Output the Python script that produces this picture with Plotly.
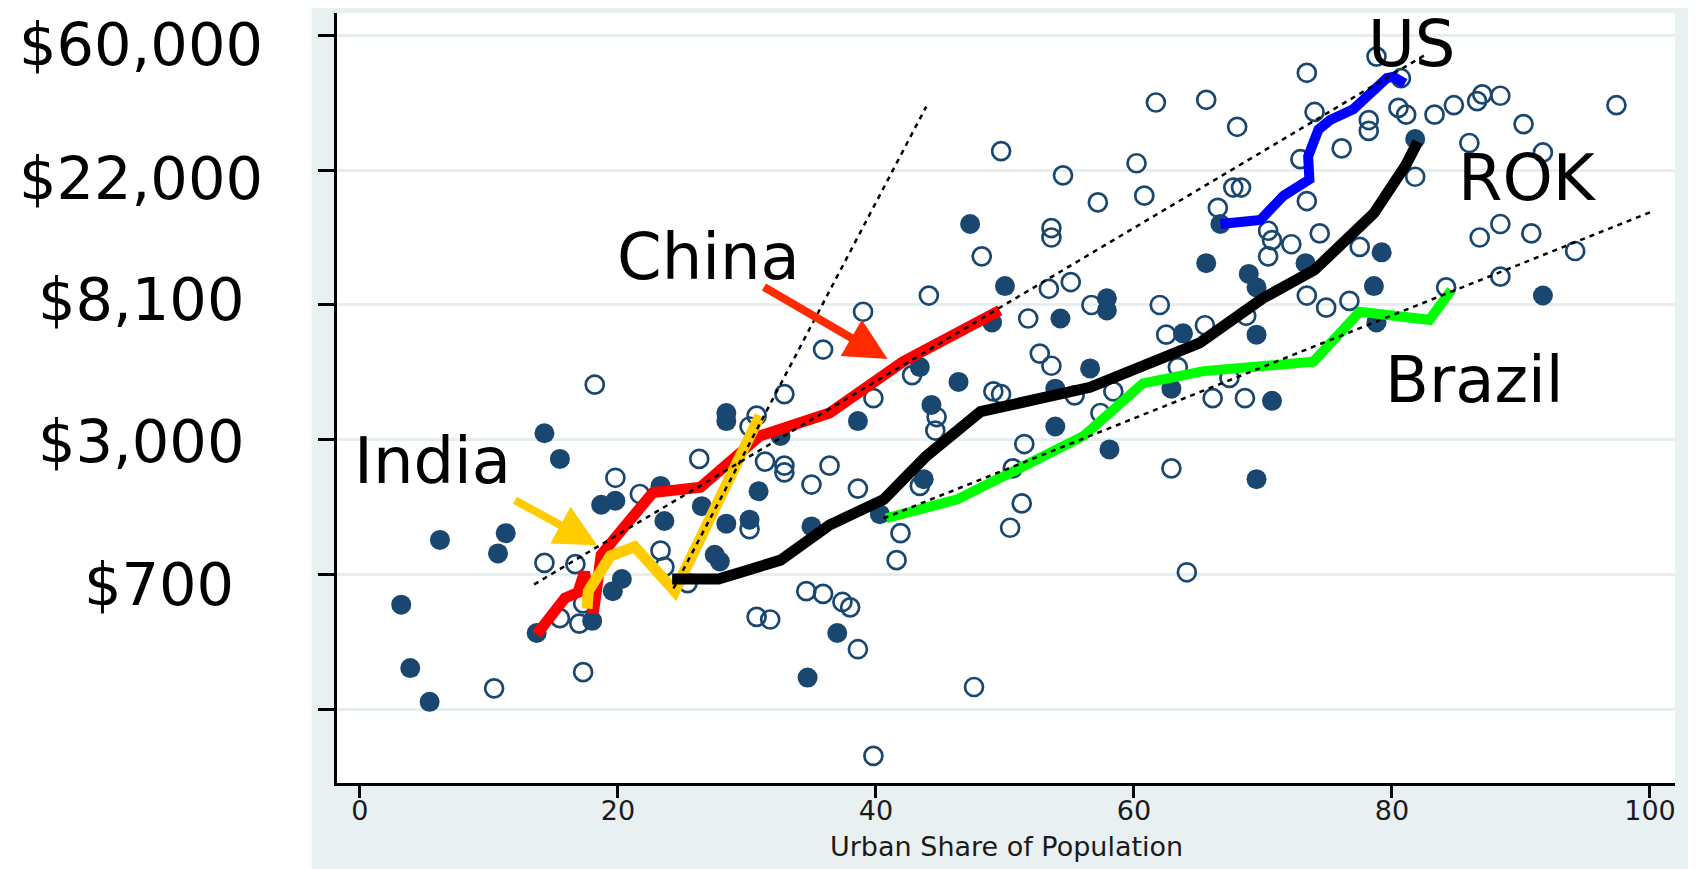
import plotly.graph_objects as go

# ---------------- DATA (x = urban share %, y = ln GDP per capita) ----------------
open_x = [18.2, 32.9, 30.75, 30.2, 26.3, 31.4, 32.9, 32.9, 36.4, 19.8, 35.0, 21.7, 30.2, 14.3, 16.7,
          23.3, 23.6, 25.4, 34.6, 35.9, 15.5, 17.0, 17.3, 30.75, 31.8, 10.4, 17.3,
          61.7, 65.6, 68.0, 49.7, 54.5, 60.2, 60.8, 57.2, 67.7, 68.3, 66.5, 53.6, 53.6, 48.2, 44.1,
          39.0, 53.4, 55.1, 56.7, 62.0, 51.8, 65.5, 62.5, 35.9, 52.7, 53.6, 42.8, 39.8, 49.1, 49.7,
          58.4, 63.4, 68.6, 66.1, 67.4, 44.7, 44.6, 55.4, 57.4, 51.5, 38.6, 43.4, 50.6, 51.3, 50.4,
          41.9, 41.6, 62.9, 64.1,
          78.8, 73.4, 80.7, 74.0, 78.2, 78.2, 76.1, 72.9, 80.5, 81.1, 83.3, 84.8, 86.6, 87.0, 88.4,
          97.4, 90.2, 86.0, 91.7, 81.8, 73.4, 70.4, 70.7, 72.2, 74.4, 70.4, 77.5, 86.8, 88.4, 90.8,
          94.2, 73.4, 74.9, 76.7, 88.4, 84.2, 68.7,
          37.4, 38.0, 38.6, 47.6, 39.8]
open_y = [8.41, 8.34, 8.18, 8.10, 7.86, 7.84, 7.81, 7.76, 7.81, 7.72, 7.67, 7.60, 7.34, 7.09, 7.08,
          7.18, 7.06, 6.94, 6.88, 6.86, 6.68, 6.64, 6.79, 6.69, 6.67, 6.16, 6.28,
          10.50, 10.52, 10.32, 10.14, 9.96, 10.05, 9.81, 9.76, 9.87, 9.87, 9.72, 9.57, 9.50, 9.36, 9.07,
          8.95, 9.12, 9.17, 9.00, 9.00, 8.90, 8.85, 8.78, 8.67, 8.64, 8.55, 8.48, 8.31, 8.36, 8.34,
          8.36, 8.54, 8.31, 8.31, 8.46, 8.17, 8.07, 8.33, 8.20, 7.97, 7.64, 7.66, 7.79, 7.53, 7.35,
          7.31, 7.11, 7.79, 7.02,
          10.84, 10.72, 10.68, 10.43, 10.37, 10.29, 10.16, 10.08, 10.46, 10.41, 10.41, 10.48, 10.51, 10.56, 10.55,
          10.48, 10.34, 10.20, 10.13, 9.95, 9.77, 9.55, 9.48, 9.45, 9.53, 9.36, 9.43, 9.50, 9.60, 9.53,
          9.40, 9.07, 8.98, 9.03, 9.21, 9.13, 8.92,
          6.80, 6.76, 6.45, 6.17, 5.66]

filled_x = [28.4, 28.4, 14.3, 15.5, 30.9, 23.3, 18.7, 19.8, 26.5, 23.6, 28.4, 30.2, 35.0, 6.2, 11.3,
            10.7, 27.5, 27.9, 20.3, 19.6, 3.2, 13.7, 18.0, 3.9, 5.4, 34.7, 32.6,
            47.3, 65.6, 68.9, 66.7, 50.0, 57.9, 57.9, 54.3, 49.0, 63.8, 43.4, 46.4, 38.6, 44.3, 56.6,
            53.9, 62.9, 53.9, 58.1, 43.7, 40.3, 69.5,
            81.8, 79.2, 73.3, 69.5, 78.6, 91.7, 69.5, 78.8, 70.7,
            37.0]
filled_y = [8.20, 8.14, 8.05, 7.86, 7.62, 7.66, 7.52, 7.55, 7.51, 7.40, 7.38, 7.41, 7.36, 7.26, 7.31,
            7.16, 7.15, 7.10, 6.97, 6.88, 6.78, 6.57, 6.66, 6.31, 6.06, 6.24, 8.03,
            9.60, 9.31, 9.23, 9.60, 9.14, 9.05, 8.96, 8.90, 8.87, 8.79, 8.54, 8.43, 8.14, 8.26, 8.53,
            8.38, 8.38, 8.10, 7.93, 7.71, 7.45, 7.71,
            10.23, 9.39, 9.31, 9.13, 9.14, 9.07, 8.78, 8.87, 8.29,
            6.57]

china_x = [13.7, 15.9, 16.9, 17.4, 18.1, 18.7, 22.7, 26.4, 31.0, 36.4, 42.1, 49.6]
china_y = [6.56, 6.83, 6.87, 7.02, 6.72, 7.15, 7.61, 7.65, 8.03, 8.20, 8.58, 8.96]
india_x = [17.6, 17.7, 19.4, 21.3, 24.4, 31.0]
india_y = [6.75, 6.88, 7.14, 7.21, 6.88, 8.18]
rok_x = [24.2, 27.8, 32.6, 36.4, 40.6, 43.9, 48.1, 56.6, 65.1, 70.0, 74.0, 78.6, 81.1, 82.0]
rok_y = [6.97, 6.97, 7.11, 7.37, 7.56, 7.88, 8.21, 8.39, 8.72, 9.05, 9.26, 9.68, 10.04, 10.21]
brazil_x = [40.8, 46.3, 50.9, 56.1, 60.7, 65.4, 73.9, 77.5, 82.9, 84.6]
brazil_y = [7.42, 7.56, 7.78, 8.03, 8.42, 8.51, 8.58, 8.95, 8.89, 9.11]
us_x = [66.7, 69.8, 71.6, 73.6, 73.5, 74.3, 75.2, 77.0, 79.6, 80.1, 81.0]
us_y = [9.60, 9.63, 9.81, 9.93, 10.10, 10.30, 10.37, 10.45, 10.68, 10.69, 10.64]

# dotted trend lines (end points)
fit_main_x = [13.5, 82.7]
fit_main_y = [6.93, 10.86]
fit_steep_x = [24.3, 43.9]
fit_steep_y = [6.90, 10.47]
fit_brazil_x = [40.6, 100.1]
fit_brazil_y = [7.42, 9.69]

# labels
country_names = ["China", "India", "US", "ROK", "Brazil"]
label_x = [27.0, 5.66, 81.5, 90.5, 86.4]
label_y = [9.335, 7.82, 11.03, 9.91, 8.445]

# arrows (tail -> head)
china_arrow = dict(tail=(31.2, 9.14), head=(40.9, 8.60))
india_arrow = dict(tail=(11.9, 7.56), head=(18.4, 7.22))

y_tickvals = [11, 10, 9, 8, 7, 6]
y_ticktext = ["$60,000", "$22,000", "$8,100", "$3,000", "$700", ""]
x_tickvals = [0, 20, 40, 60, 80, 100]

# ---------------- STYLE ----------------
NAVY = "#1a476f"
BG = "#e9f0f2"
FONT = "DejaVu Sans"
OFF = 8                      # default page margin of the html body
W, H = 1696 - OFF, 869 - OFF
ML, MR, MT, MB = 337 - OFF, 21, 13 - OFF, 86
PW = W - ML - MR
PH = H - MT - MB

fig = go.Figure()

fig.add_trace(go.Scatter(x=open_x, y=open_y, mode="markers",
                         marker=dict(symbol="circle-open", size=18, color=NAVY, line=dict(width=2.7)),
                         hoverinfo="skip", showlegend=False))
fig.add_trace(go.Scatter(x=filled_x, y=filled_y, mode="markers",
                         marker=dict(symbol="circle", size=20, color=NAVY, line=dict(width=0)),
                         hoverinfo="skip", showlegend=False))

for xs, ys, col, w in [(china_x, china_y, "#ff0000", 11),
                       (india_x, india_y, "#ffcc00", 11),
                       (rok_x, rok_y, "#000000", 11),
                       (brazil_x, brazil_y, "#00ff00", 10),
                       (us_x, us_y, "#0000ff", 10)]:
    fig.add_trace(go.Scatter(x=xs, y=ys, mode="lines",
                             line=dict(color=col, width=w, shape="linear"),
                             hoverinfo="skip", showlegend=False))

for xs, ys in [(fit_main_x, fit_main_y), (fit_steep_x, fit_steep_y), (fit_brazil_x, fit_brazil_y)]:
    fig.add_trace(go.Scatter(x=xs, y=ys, mode="lines",
                             line=dict(color="black", width=2.5, dash="5px,5px"),
                             hoverinfo="skip", showlegend=False))

# white area left of the grey graph region
fig.add_shape(type="rect", xref="paper", yref="paper",
              x0=-0.5, x1=(311.7 - 337) / PW, y0=-0.3, y1=1.3,
              fillcolor="white", line=dict(width=0), layer="below")

# country labels (pixel nudges kept separate from the data)
label_shift = [3, 3, -13, 4, 0]
for name, lx, ly, sh in zip(country_names, label_x, label_y, label_shift):
    fig.add_annotation(x=lx, y=ly, xref="x", yref="y", text=name, showarrow=False,
                       xanchor="center", yanchor="middle", yshift=sh,
                       font=dict(family=FONT, size=64, color="black"))

# arrows
for arr, col in [(china_arrow, "#ff2a00"), (india_arrow, "#ffcc00")]:
    fig.add_annotation(x=arr["head"][0], y=arr["head"][1], ax=arr["tail"][0], ay=arr["tail"][1],
                       xref="x", yref="y", axref="x", ayref="y", text="",
                       showarrow=True, arrowhead=2, arrowsize=1.05, arrowwidth=8, arrowcolor=col)

# y tick labels (large, centred in the white margin)
label_dy = [9, 8, -5, 2, 10, 0]
label_dx = [0, 0, 0, 0, 18, 0]
for v, t, dy, dx in zip(y_tickvals, y_ticktext, label_dy, label_dx):
    if t:
        fig.add_annotation(x=(141 - 337) / PW, y=v, xref="paper", yref="y", text=t,
                           showarrow=False, xanchor="center", yanchor="middle",
                           xshift=dx, yshift=-dy,
                           font=dict(family=FONT, size=59, color="black"))

# x axis title
fig.add_annotation(x=0.5, y=(783 - 846) / PH, xref="paper", yref="paper",
                   text="Urban Share of Population", showarrow=False,
                   xanchor="center", yanchor="middle",
                   font=dict(family=FONT, size=27, color="#1a1a1a"))

fig.update_layout(
    width=W, height=H,
    margin=dict(l=ML, r=MR, t=MT, b=MB, pad=0),
    paper_bgcolor=BG, plot_bgcolor="white",
    font=dict(family=FONT, color="black"),
    showlegend=False,
    xaxis=dict(range=[-1.78, 101.94], tickvals=x_tickvals, ticks="outside", ticklen=12,
               tickwidth=3, tickcolor="black", showline=True, linecolor="black", linewidth=3,
               ticklabelstandoff=-10,
               showgrid=False, zeroline=False, tickfont=dict(family=FONT, size=27, color="#1a1a1a")),
    yaxis=dict(range=[5.459, 11.163], tickvals=y_tickvals, ticks="outside", ticklen=16,
               tickwidth=3, tickcolor="black", showline=True, linecolor="black", linewidth=3,
               showticklabels=False, showgrid=True, gridcolor="#e6eef0", gridwidth=3,
               zeroline=False),
)

fig.write_html("out.html")
